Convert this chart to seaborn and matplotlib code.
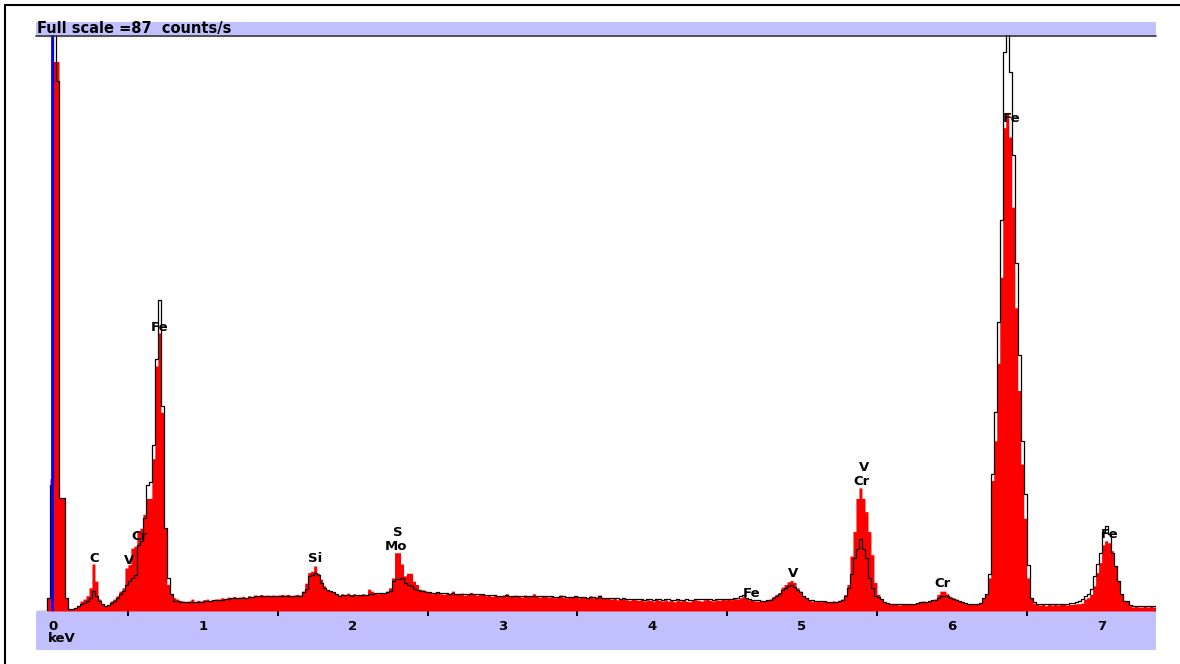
import numpy as np
import pandas as pd
import matplotlib
matplotlib.use("Agg")
import matplotlib.pyplot as plt
from matplotlib.lines import Line2D
from matplotlib.patches import Rectangle
from matplotlib.ticker import MultipleLocator
import seaborn as sns

#
# spectrum data
#

# channel layout (keV)
first_edge = -0.100
channel_width = 0.02

# sample spectrum, filled red (counts/s per channel)
red_counts = [
    0, 0, 0, 2, 20, 83, 83, 17, 17, 2,
    0.3, 0.3, 0.5, 0.8, 1.5, 1.8, 2.3, 3.5, 7.1, 4.5,
    1.8, 1.0, 0.8, 0.9, 1.5, 1.8, 2.3, 3.0, 3.5, 6.5,
    7.0, 9.5, 9.8, 12.0, 12.5, 14.6, 17.0, 17.0, 23.0, 37.0,
    42.0, 30.0, 12.5, 4.0, 2.5, 2.0, 1.8, 1.6, 1.5, 1.4,
    1.5, 1.8, 1.4, 1.6, 1.5, 1.7, 1.8, 1.6, 1.7, 1.8,
    1.8, 2.0, 1.9, 2.1, 2.0, 2.2, 1.9, 2.1, 2.2, 2.0,
    2.3, 2.2, 2.4, 2.3, 2.5, 2.3, 2.4, 2.2, 2.4, 2.3,
    2.4, 2.5, 2.4, 2.5, 2.3, 2.4, 2.5, 2.4, 3.0, 4.2,
    5.8, 6.0, 6.8, 5.7, 4.8, 3.8, 3.2, 3.0, 2.8, 2.5,
    2.4, 2.6, 2.5, 2.7, 2.5, 2.6, 2.4, 2.5, 2.6, 2.5,
    3.3, 3.0, 2.7, 2.6, 2.8, 2.7, 3.0, 3.5, 5.0, 8.8,
    8.8, 7.1, 5.3, 5.7, 5.7, 4.5, 4.0, 3.3, 3.2, 3.0,
    2.8, 2.6, 2.7, 2.9, 2.6, 2.5, 2.8, 2.6, 3.0, 2.6,
    2.5, 2.7, 2.4, 2.6, 2.8, 2.5, 2.4, 2.6, 2.5, 2.3,
    2.4, 2.2, 2.5, 2.3, 2.2, 2.4, 2.6, 2.3, 2.2, 2.4,
    2.3, 2.1, 2.4, 2.2, 2.3, 2.6, 2.2, 2.1, 2.3, 2.2,
    2.1, 2.3, 2.0, 2.2, 2.4, 2.1, 2.0, 2.2, 2.1, 2.3,
    2.0, 2.2, 2.1, 1.9, 2.3, 2.0, 2.1, 2.4, 2.0, 1.9,
    2.0, 1.8, 1.9, 1.7, 1.8, 2.0, 1.7, 1.6, 1.8, 1.7,
    1.6, 1.8, 1.5, 1.7, 1.6, 1.5, 1.8, 1.6, 1.5, 1.7,
    1.5, 1.6, 1.4, 1.7, 1.5, 1.6, 1.5, 1.4, 1.6, 1.7,
    1.6, 1.5, 1.7, 1.8, 1.6, 1.5, 1.7, 1.6, 1.8, 1.7,
    1.8, 1.7, 1.9, 1.8, 2.0, 2.2, 1.9, 1.7, 1.6, 1.5,
    1.5, 1.6, 1.5, 1.7, 1.8, 2.2, 2.5, 2.8, 3.6, 4.0,
    4.4, 4.6, 4.3, 3.5, 3.0, 2.2, 1.9, 1.6, 1.5, 1.4,
    1.5, 1.4, 1.5, 1.4, 1.3, 1.5, 1.4, 1.6, 1.8, 2.5,
    4.0, 8.3, 12.0, 17.0, 18.6, 17.0, 15.0, 12.0, 8.5, 4.3,
    2.5, 1.8, 1.4, 1.2, 1.0, 1.1, 1.0, 0.9, 1.0, 1.1,
    1.0, 1.1, 1.0, 1.2, 1.3, 1.5, 1.4, 1.5, 1.6, 1.8,
    2.5, 3.0, 3.0, 2.6, 2.2, 2.0, 1.8, 1.5, 1.3, 1.2,
    1.0, 1.0, 1.1, 1.0, 1.2, 2.0, 2.5, 5.0, 19.7, 25.7,
    37.4, 50.4, 73.0, 75.3, 71.6, 61.0, 45.8, 33.3, 22.2, 14.0,
    5.0, 2.0, 1.2, 1.0, 0.9, 1.0, 0.8, 1.0, 0.9, 1.0,
    0.9, 1.0, 1.1, 0.9, 1.0, 1.0, 1.1, 1.1, 1.2, 1.8,
    2.0, 2.5, 3.8, 5.8, 7.3, 10.0, 10.6, 10.3, 9.1, 6.8,
    4.5, 2.5, 1.6, 1.5, 0.8, 0.6, 0.7, 0.6, 0.6, 0.7,
    0.6, 0.7, 0.6,
]

# reference spectrum, black outline (counts/s per channel)
black_counts = [
    0, 0, 0, 2, 19, 130, 80, 17, 17, 2,
    0.3, 0.3, 0.5, 0.8, 1.0, 1.2, 1.5, 2.0, 3.0, 2.3,
    1.5, 1.0, 0.8, 0.9, 1.2, 1.5, 2.0, 2.6, 3.0, 4.0,
    4.5, 5.0, 5.5, 10.0, 10.5, 14.0, 19.0, 19.5, 25.0, 38.0,
    47.0, 31.0, 12.5, 5.0, 2.5, 1.5, 1.5, 1.3, 1.3, 1.3,
    1.3, 1.4, 1.3, 1.4, 1.4, 1.5, 1.5, 1.5, 1.6, 1.6,
    1.6, 1.7, 1.8, 1.8, 1.9, 1.9, 1.9, 2.0, 2.0, 2.0,
    2.1, 2.1, 2.2, 2.2, 2.2, 2.2, 2.2, 2.2, 2.2, 2.2,
    2.2, 2.3, 2.3, 2.3, 2.3, 2.3, 2.3, 2.3, 2.8, 3.3,
    5.3, 5.5, 5.7, 5.5, 4.2, 3.5, 3.2, 3.0, 2.8, 2.5,
    2.3, 2.4, 2.4, 2.4, 2.3, 2.4, 2.4, 2.4, 2.4, 2.4,
    2.5, 2.6, 2.7, 2.7, 2.7, 2.7, 2.8, 3.0, 4.5, 4.8,
    4.8, 5.0, 4.2, 4.0, 3.8, 3.3, 3.2, 3.0, 3.0, 2.9,
    2.8, 2.7, 2.7, 2.8, 2.7, 2.7, 2.7, 2.6, 2.7, 2.6,
    2.6, 2.6, 2.6, 2.6, 2.6, 2.5, 2.5, 2.5, 2.5, 2.4,
    2.4, 2.4, 2.4, 2.3, 2.3, 2.3, 2.4, 2.3, 2.3, 2.3,
    2.3, 2.3, 2.2, 2.2, 2.3, 2.3, 2.2, 2.2, 2.2, 2.2,
    2.2, 2.2, 2.1, 2.1, 2.2, 2.2, 2.1, 2.1, 2.1, 2.2,
    2.1, 2.1, 2.1, 2.0, 2.1, 2.1, 2.0, 2.2, 2.0, 2.0,
    2.0, 1.9, 1.9, 1.9, 1.8, 1.9, 1.8, 1.8, 1.8, 1.8,
    1.8, 1.8, 1.7, 1.8, 1.8, 1.7, 1.8, 1.8, 1.7, 1.8,
    1.8, 1.7, 1.7, 1.8, 1.7, 1.7, 1.8, 1.7, 1.7, 1.8,
    1.8, 1.8, 1.8, 1.8, 1.8, 1.7, 1.8, 1.8, 1.8, 1.8,
    1.8, 1.8, 1.9, 2.0, 2.2, 2.4, 2.0, 1.8, 1.7, 1.6,
    1.6, 1.5, 1.5, 1.6, 1.7, 2.0, 2.3, 2.6, 3.2, 3.4,
    3.8, 3.9, 3.7, 3.2, 2.8, 2.2, 2.0, 1.7, 1.6, 1.5,
    1.5, 1.5, 1.5, 1.4, 1.4, 1.4, 1.4, 1.5, 1.6, 2.3,
    3.5, 5.6, 8.0, 9.4, 10.9, 9.4, 8.0, 5.0, 3.5, 2.3,
    2.1, 1.8, 1.4, 1.2, 1.1, 1.1, 1.0, 1.0, 1.0, 1.1,
    1.1, 1.1, 1.1, 1.2, 1.3, 1.4, 1.4, 1.5, 1.6, 1.7,
    2.0, 2.3, 2.3, 2.2, 2.0, 1.8, 1.7, 1.5, 1.3, 1.2,
    1.1, 1.0, 1.1, 1.1, 1.2, 2.0, 2.5, 5.6, 20.7, 30.0,
    43.6, 59.0, 84.4, 130.0, 81.4, 68.8, 52.5, 38.6, 25.7, 17.7,
    7.0, 2.0, 1.3, 1.1, 1.0, 1.1, 1.0, 1.1, 1.0, 1.1,
    1.1, 1.1, 1.1, 1.1, 1.2, 1.2, 1.3, 1.5, 1.8, 2.3,
    2.6, 3.3, 5.3, 7.1, 8.8, 12.0, 12.9, 11.6, 8.8, 6.8,
    4.5, 2.5, 1.5, 1.5, 0.9, 0.8, 0.8, 0.8, 0.8, 0.8,
    0.8, 0.8, 0.8,
]

full_scale = 87

# element markers
peak_names = ["C", "V", "Cr", "Fe", "Si", "S", "Mo", "Fe", "V", "V", "Cr", "Cr", "Fe", "Fe"]
peak_kev = [0.274, 0.507, 0.58, 0.714, 1.749, 2.303, 2.29, 4.666, 4.94, 5.414, 5.40, 5.94, 6.40, 7.056]
peak_y = [8.0, 7.7, 11.2, 42.8, 7.9, 11.8, 9.7, 2.7, 5.6, 21.6, 19.5, 4.2, 74.4, 11.5]

#
# build the table
#

n_channels = len(red_counts)
edges = first_edge + channel_width * np.arange(n_channels + 1)
centers = edges[:-1] + channel_width / 2
bin_range = (float(edges[0]), float(edges[-1]))

df = pd.DataFrame({"kev": centers, "sample": red_counts, "reference": black_counts})

#
# figure
#

sns.set_style("white")
plt.rcParams["font.family"] = ["DejaVu Sans"]
plt.rcParams["text.color"] = "black"
plt.rcParams["xtick.color"] = "black"
plt.rcParams["xtick.labelcolor"] = "black"

W, H = 1180, 664
fig = plt.figure(figsize=(W / 100, H / 100), dpi=100)
lavender = "#c0c0ff"

ax = fig.add_axes([36 / W, 1 - 611 / H, 1120 / W, 576 / H])

sns.histplot(data=df, x="kev", weights="sample", binwidth=channel_width,
             binrange=bin_range, element="step", fill=True, color="#ff0000",
             alpha=1, linewidth=0, ax=ax, zorder=2)
sns.histplot(data=df, x="kev", weights="reference", binwidth=channel_width,
             binrange=bin_range, element="step", fill=False, color="black",
             linewidth=0.9, ax=ax, zorder=3)

# zero marker
ax.axvline(-0.006, color="#0000ff", lw=2.0, zorder=4)

ax.set_xlim(-0.1135, 7.363)
ax.set_ylim(0, full_scale)
ax.set_xlabel("")
ax.set_ylabel("")
ax.set_yticks([])
for s in ax.spines.values():
    s.set_visible(False)

ax.set_xticks(range(8))
ax.set_xticklabels([str(i) for i in range(8)], fontweight="bold", fontsize=9.5,
                   color="black")
ax.xaxis.set_minor_locator(MultipleLocator(0.1))
ax.tick_params(axis="x", which="major", direction="out", length=5, width=1.4,
               color="black", pad=1.5)
ax.tick_params(axis="x", which="minor", direction="out", length=2.2, width=1.4,
               color="black")

# half keV ticks
secax = ax.secondary_xaxis("bottom")
secax.set_xticks(np.arange(0.5, 7.5, 1.0))
secax.tick_params(axis="x", length=3.6, width=1.4, color="black", labelbottom=False)
secax.spines["bottom"].set_visible(False)

for name, xk, yk in zip(peak_names, peak_kev, peak_y):
    ax.text(xk, yk, name, ha="center", va="center", fontsize=9.5,
            fontweight="bold", color="black", zorder=5)

# lower band with the energy scale
fig.add_artist(Rectangle((36 / W, 1 - 650 / H), 1120 / W, 39 / H,
                         transform=fig.transFigure, facecolor=lavender,
                         edgecolor="none", zorder=-5))
fig.text(48 / W, 1 - 639 / H, "keV", ha="left", va="center",
         fontsize=9.5, fontweight="bold", color="black")

# header bar
fig.add_artist(Rectangle((36 / W, 1 - 35 / H), 1120 / W, 13 / H,
                         transform=fig.transFigure, facecolor=lavender,
                         edgecolor="none", zorder=-5))
fig.add_artist(Line2D([36 / W, 1156 / W], [1 - 35.5 / H] * 2, color="#303030", lw=1.2))
fig.text(37 / W, 1 - 28.5 / H, f"Full scale ={full_scale}  counts/s", ha="left",
         va="center", fontsize=10.5, fontweight="bold", color="black")

# outer frame
fig.add_artist(Line2D([5 / W, 1], [1 - 5 / H] * 2, color="black", lw=1.5))
fig.add_artist(Line2D([5 / W, 5 / W], [0, 1 - 5 / H], color="black", lw=1.5))

fig.savefig("out.png", dpi=100)
